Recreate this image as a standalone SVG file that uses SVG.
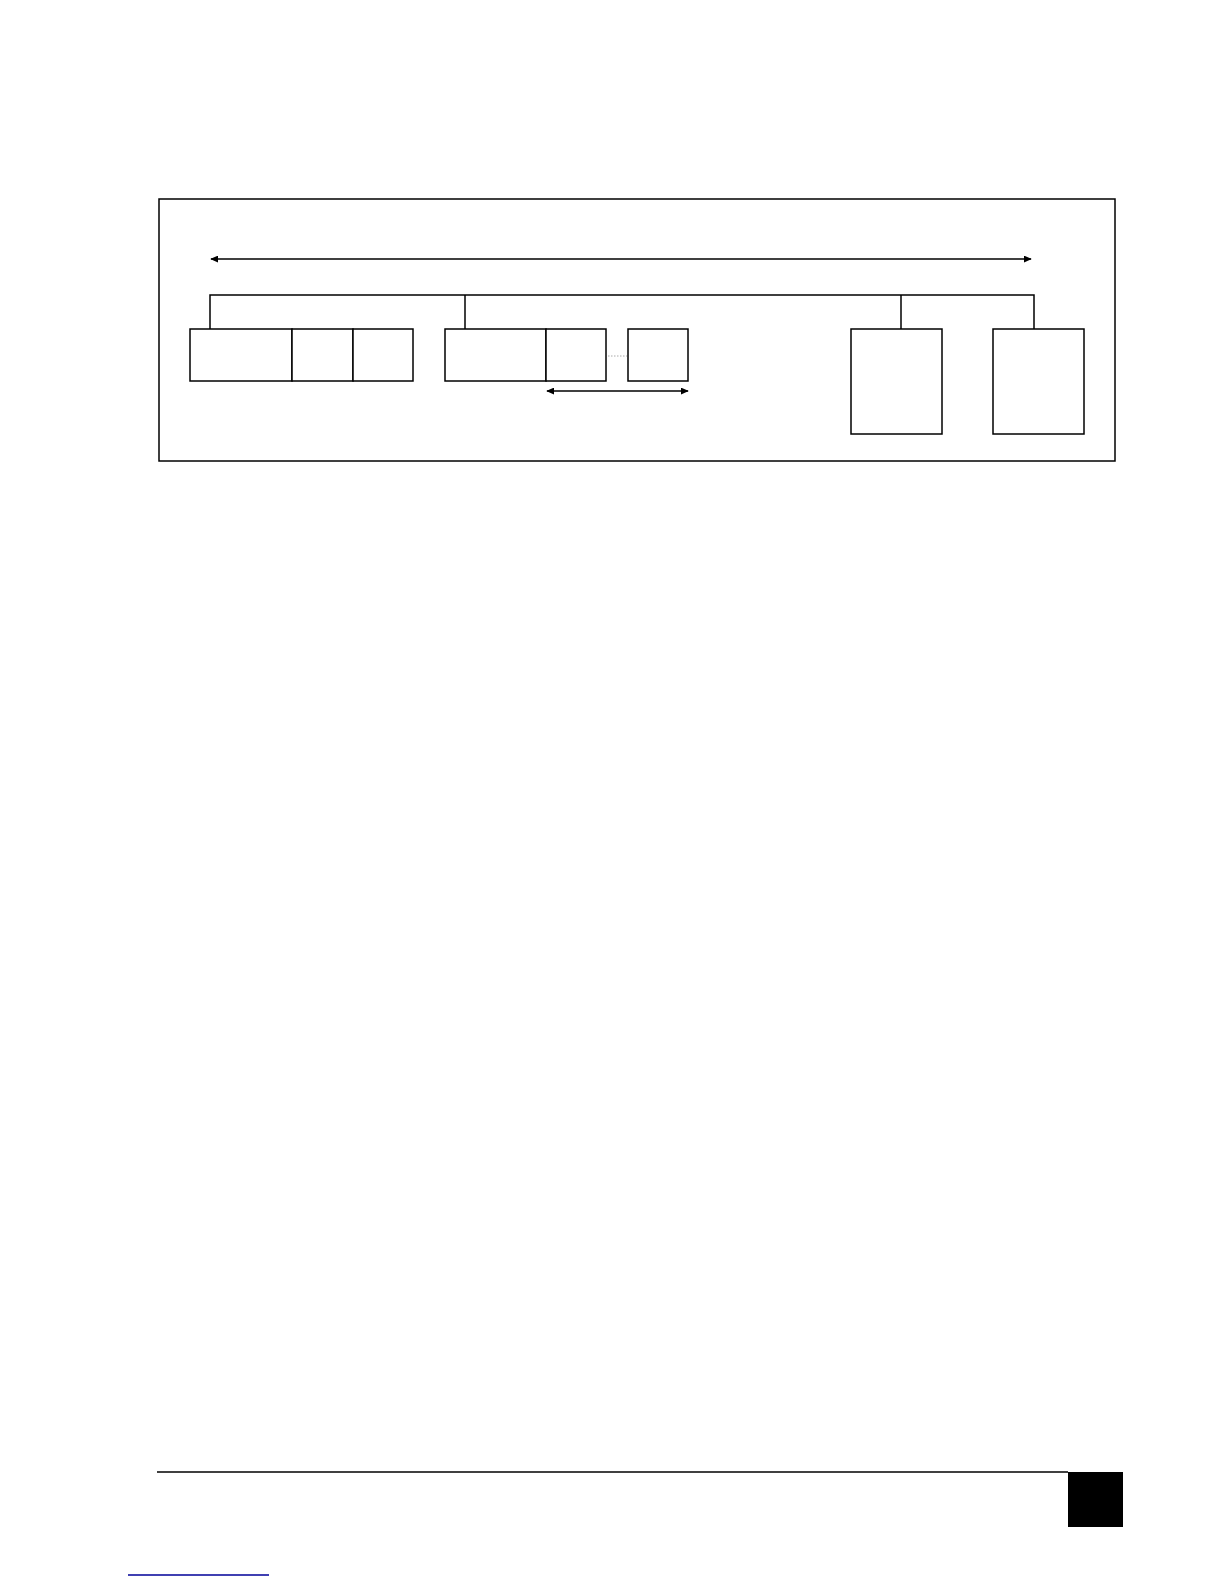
<svg xmlns="http://www.w3.org/2000/svg" width="1224" height="1584" viewBox="0 0 1224 1584">
<style>
.box{fill:#fff;stroke:#000;stroke-width:1.5}
.ln{fill:none;stroke:#000;stroke-width:1.5}
.dot{fill:none;stroke:#aaa;stroke-width:1;stroke-dasharray:1.5 1.5}
</style>
<defs>
<marker id="ah" viewBox="0 0 10 10" refX="9" refY="5" markerWidth="8" markerHeight="7" markerUnits="userSpaceOnUse" orient="auto-start-reverse" preserveAspectRatio="none">
<path d="M0,0 L10,5 L0,10 z" fill="#000"/>
</marker>
</defs>
<rect width="1224" height="1584" fill="#fff"/>
<g id="frame"><rect class="box" x="159" y="199" width="956" height="262"/></g>
<g id="connectors">
<line class="ln" x1="211" y1="259" x2="1031" y2="259" marker-start="url(#ah)" marker-end="url(#ah)"/>
<polyline class="ln" points="210,329 210,295 1034,295 1034,329"/>
<line class="ln" x1="465" y1="295" x2="465" y2="329"/>
<line class="ln" x1="901" y1="295" x2="901" y2="329"/>
<line class="ln" x1="547" y1="391" x2="688" y2="391" marker-start="url(#ah)" marker-end="url(#ah)"/>
<line class="dot" x1="608" y1="356" x2="627" y2="356"/>
</g>
<g id="node1"><rect class="box" x="190" y="329" width="102" height="52"/></g>
<g id="node2"><rect class="box" x="292" y="329" width="61" height="52"/></g>
<g id="node3"><rect class="box" x="353" y="329" width="60" height="52"/></g>
<g id="node4"><rect class="box" x="445" y="329" width="101" height="52"/></g>
<g id="node5"><rect class="box" x="546" y="329" width="60" height="52"/></g>
<g id="node6"><rect class="box" x="628" y="329" width="60" height="52"/></g>
<g id="node7"><rect class="box" x="851" y="329" width="91" height="105"/></g>
<g id="node8"><rect class="box" x="993" y="329" width="91" height="105"/></g>
<g id="footer">
<line x1="157" y1="1472" x2="1068" y2="1472" stroke="#000" stroke-width="1.5"/>
<rect x="1068" y="1472" width="55" height="55" fill="#000"/>
<line x1="128" y1="1575" x2="269" y2="1575" stroke="#000099" stroke-width="1.5"/>
</g>
</svg>
